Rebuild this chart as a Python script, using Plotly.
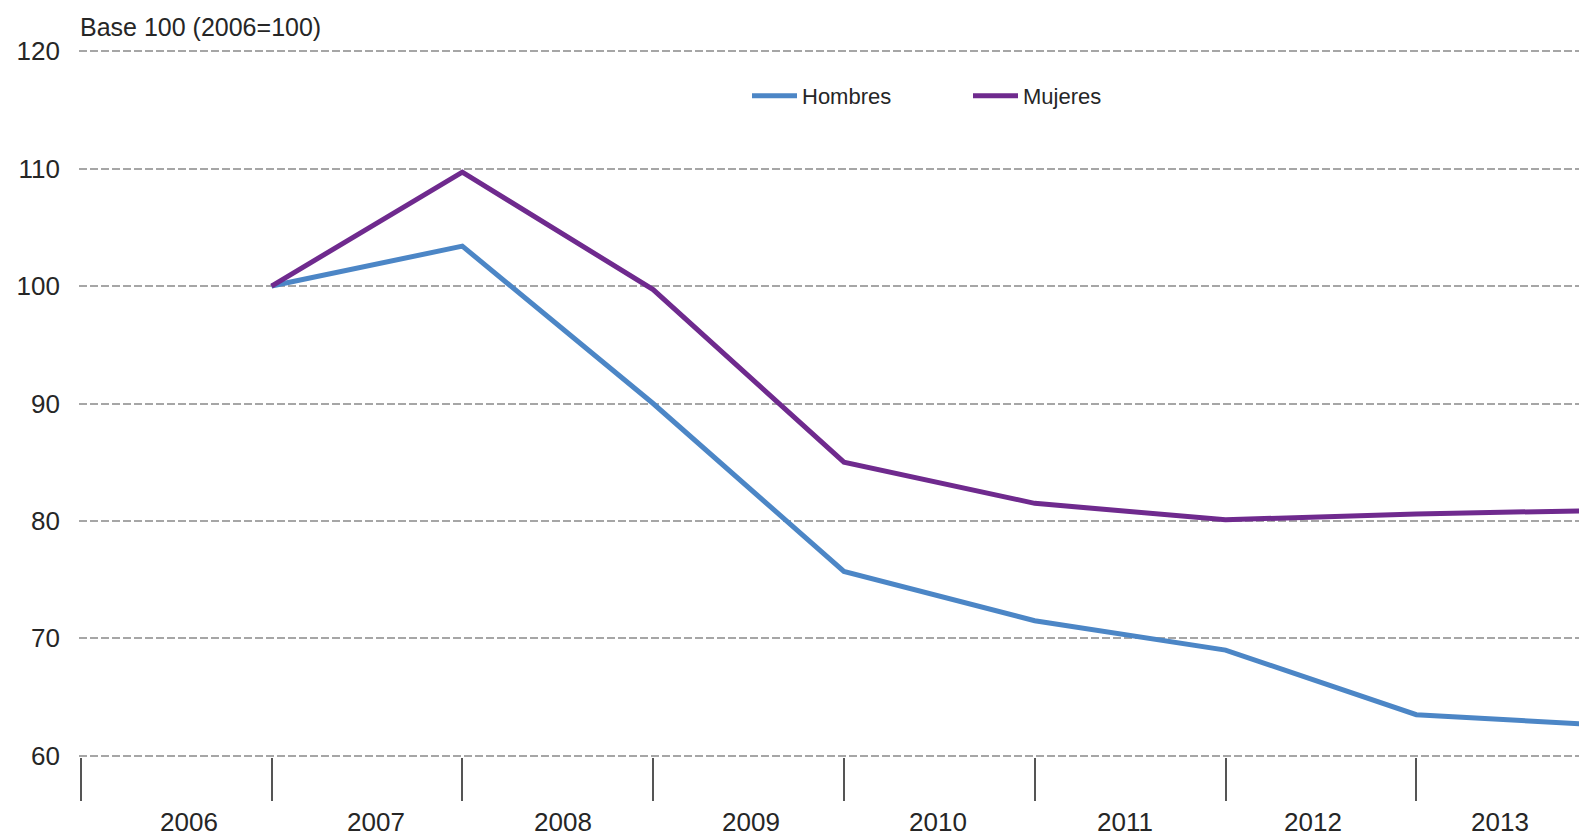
import plotly.graph_objects as go

# ---- data ----
years = ["2006", "2007", "2008", "2009", "2010", "2011", "2012", "2013"]
hombres = [100.0, 103.4, 90.0, 75.7, 71.5, 69.0, 63.5, 62.6]
mujeres = [100.0, 109.7, 99.7, 85.0, 81.5, 80.1, 80.6, 80.9]
y_ticks = [60, 70, 80, 90, 100, 110, 120]
y_title = "Base 100 (2006=100)"

BLUE = "#4c86c6"
PURPLE = "#6f2a8e"
FONT = "Liberation Sans, Arial, sans-serif"
TXT = "#262626"

# the page body has an 8px margin
W, H = 1587, 828
ML, MT, MB = 71, 42, 79
PW = W - ML
PH = H - MT - MB
UNIT = 190.8  # px per category band
X0 = -0.009

# each year's value sits at the end of its category band
xpos = [i + 1 for i in range(len(years))]

fig = go.Figure()
fig.add_trace(go.Scatter(x=xpos, y=hombres, mode="lines", name="Hombres",
                         line=dict(color=BLUE, width=5)))
fig.add_trace(go.Scatter(x=xpos, y=mujeres, mode="lines", name="Mujeres",
                         line=dict(color=PURPLE, width=5)))

# year labels under the bands
label_start, label_step = 0.565, 0.982
annotations = []
for i, yr in enumerate(years):
    annotations.append(dict(x=label_start + label_step * i, y=0, xref="x", yref="paper",
                            text=yr, showarrow=False, xanchor="center", yanchor="middle",
                            yshift=-65, font=dict(family=FONT, size=26, color=TXT)))
annotations.append(dict(x=0, y=1, xref="paper", yref="paper", text=y_title,
                        showarrow=False, xanchor="left", yanchor="middle", yshift=23,
                        xshift=-1, font=dict(family=FONT, size=25, color=TXT)))

fig.update_layout(
    width=W, height=H,
    margin=dict(l=ML, r=0, t=MT, b=MB, pad=0),
    paper_bgcolor="white", plot_bgcolor="white",
    font=dict(family=FONT, color=TXT),
    annotations=annotations,
    showlegend=True,
    legend=dict(orientation="h", x=(739 - ML) / PW, xanchor="left",
                y=1 - 46 / PH, yanchor="middle",
                font=dict(family=FONT, size=22, color=TXT),
                entrywidth=161, itemwidth=45, bgcolor="rgba(0,0,0,0)"),
    xaxis=dict(range=[X0, X0 + PW / UNIT], tickmode="array", tickvals=list(range(0, 9)),
               showticklabels=False, ticks="outside", ticklen=43, tickwidth=2,
               tickcolor="#555555", showgrid=False, zeroline=False, showline=False,
               fixedrange=True),
    yaxis=dict(range=[59.9, 120.1], tickmode="array", tickvals=y_ticks,
               ticktext=[str(v) for v in y_ticks], ticks="", ticklabelstandoff=18,
               tickfont=dict(family=FONT, size=26, color=TXT),
               showgrid=True, gridcolor="#a6a6a6", gridwidth=2, griddash="8px,3px",
               zeroline=False, showline=False, fixedrange=True),
)

fig.write_html("out.html")
